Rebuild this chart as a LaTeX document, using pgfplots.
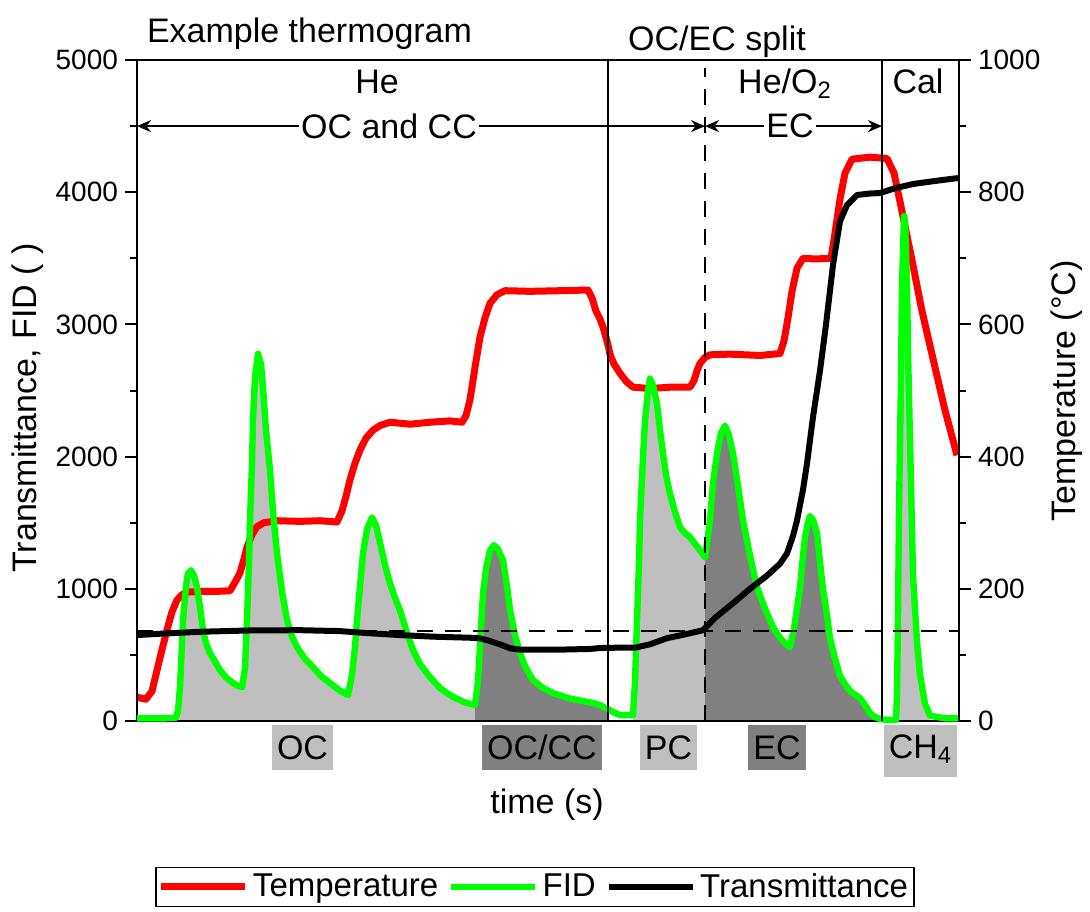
\documentclass[border=0pt]{standalone}
\usepackage{fontspec}
\setmainfont{Liberation Sans}
\usepackage{pgfplots}
\usepackage{pgfplotstable}
\pgfplotsset{compat=1.18}
\usetikzlibrary{arrows.meta}
\definecolor{LGray}{HTML}{BFBFBF}
\definecolor{DGray}{HTML}{808080}
\definecolor{FIDgreen}{HTML}{00FF00}
\definecolor{TempRed}{HTML}{FF0000}

% time in arbitrary units, temperature in degC
\pgfplotstableread{
x T
137 36
146 33
152 45
157 77
162 108
167 138
172 165
177 183
182 191
187 195
200 196
215 196
230 197
235 210
240 224
244 245
247 263
252 282
257 294
264 300
277 303
300 302
320 303
337 301
342 318
346 340
350 365
355 390
360 410
366 428
373 440
380 447
390 452
410 449
430 452
450 454
462 452
466 462
470 486
475 535
480 581
485 610
490 632
497 645
505 651
530 650
560 651
588 652
592 640
596 620
600 608
603 596
607 575
610 555
614 540
620 526
626 514
633 505
650 503
670 505
690 505
694 515
697 530
700 541
705 550
710 554
730 555
760 553
780 556
784 575
788 610
792 650
797 685
803 700
815 699
831 700
835 738
840 790
845 829
852 850
870 853
887 851
894 829
901 778
912 697
922 620
935 535
945 470
957 402
}\temp

% FID signal
\pgfplotstableread{
x v
137 20
150 20
165 20
176 25
178 80
180 257
183 760
186 1020
188 1117
191 1140
194 1100
197 1012
200 860
203 687
206 590
210 513
215 450
220 385
226 330
233 287
238 265
242 257
245 400
247 762
249 1200
250 1517
252 1950
253 2272
255 2600
258 2778
261 2700
263 2522
266 2200
270 1895
273 1580
277 1268
282 980
287 762
292 640
297 559
305 470
313 408
321 340
330 287
340 230
348 196
352 350
355 560
357 762
360 1020
363 1268
367 1450
372 1540
376 1480
380 1350
385 1180
390 1042
395 930
400 838
406 690
413 536
420 430
430 332
440 250
447 211
455 175
465 140
475 121
478 300
481 700
483 966
486 1150
490 1291
494 1330
498 1300
503 1215
507 1020
510 838
515 650
520 513
526 400
533 310
543 250
553 211
570 170
593 136
600 120
608 90
613 68
620 45
633 45
635 300
637 762
639 1200
640 1517
643 2000
645 2272
648 2500
650 2590
653 2540
657 2400
660 2200
663 2023
666 1860
670 1720
675 1580
680 1467
685 1420
690 1392
695 1340
700 1291
705 1238
707 1350
710 1517
713 1800
717 2023
721 2180
725 2234
729 2160
733 2023
738 1780
743 1517
750 1250
757 1012
765 850
773 710
780 630
786 580
790 559
794 700
797 850
800 1012
803 1250
805 1392
808 1500
810 1550
813 1520
817 1420
820 1200
823 997
827 800
830 627
835 470
840 340
845 280
850 227
855 200
860 174
865 120
870 60
875 30
882 12
890 8
896 8
897 200
898 800
899 1600
901 2600
902 3300
904 3820
905 3780
907 3300
908 2800
910 2121
913 1100
917 600
920 350
925 130
930 40
945 20
958 20
}\fid

% transmittance
\pgfplotstableread{
x v
137 650
160 660
200 675
250 685
300 687
340 680
367 665
400 650
433 638
470 630
480 625
490 605
500 580
510 550
520 540
560 540
590 545
600 552
620 555
635 555
650 580
667 627
685 655
703 687
715 780
733 891
750 1000
767 1100
780 1190
787 1268
793 1400
797 1517
803 1750
807 1948
813 2300
820 2650
826 3000
833 3450
840 3780
847 3903
857 3979
870 3990
880 3994
895 4030
913 4062
935 4085
958 4107
}\trans

\begin{document}
\begin{tikzpicture}
\pgfplotsset{
  thermo/.style={
    width=411pt, height=330.5pt, scale only axis,
    xmin=137, xmax=959, clip=false,
    tick label style={font=\fontsize{14}{16}\selectfont},
    /pgf/number format/1000 sep={},
    /pgf/number format/assume math mode=true,
    tick align=outside, major tick length=6pt, minor tick length=3.5pt,
    tick style={black, line width=1pt},
    axis line style={line width=1pt},
  },
}
% grey areas under the FID trace
\begin{axis}[thermo, ymin=0, ymax=5000, hide axis]
\addplot[fill=LGray, draw=none, restrict x to domain=176:475] table[x=x,y=v] {\fid} \closedcycle;
\addplot[fill=DGray, draw=none, restrict x to domain=475:608] table[x=x,y=v] {\fid} \closedcycle;
\addplot[fill=LGray, draw=none, restrict x to domain=633:705] table[x=x,y=v] {\fid} \closedcycle;
\addplot[fill=DGray, draw=none, restrict x to domain=705:882] table[x=x,y=v] {\fid} \closedcycle;
\addplot[fill=LGray, draw=none, restrict x to domain=896:930] table[x=x,y=v] {\fid} \closedcycle;
\end{axis}

% temperature, right axis
\begin{axis}[thermo, ymin=0, ymax=1000,
  axis y line*=right, axis x line=none,
  ytick={0,200,...,1000}, minor ytick={100,300,...,900}]
\addplot[TempRed, line width=3.5pt, line join=round] table[x=x,y=T] {\temp};
\end{axis}

% FID and transmittance, left axis
\begin{axis}[thermo, ymin=0, ymax=5000,
  xtick=\empty, ytick pos=left,
  ytick={0,1000,...,5000}, minor ytick={500,1500,...,4500},
  legend style={at={(rel axis cs:0.4842,-0.2511)}, anchor=center,
    legend columns=3, draw=black, line width=0.8pt,
    font=\fontsize{16.5}{19}\selectfont,
    inner xsep=1pt, inner ysep=1pt,
    /tikz/every even column/.append style={column sep=3pt}},
  legend image code/.code={\draw[#1] (0pt,0pt) -- (42pt,0pt);},
]
\addlegendimage{TempRed, line width=3.5pt}
\addlegendentry{Temperature}
\addlegendimage{FIDgreen, line width=3.2pt}
\addlegendentry{FID}
\addlegendimage{black, line width=3.2pt}
\addlegendentry{Transmittance}

\addplot[FIDgreen, line width=3.2pt, line join=round, forget plot] table[x=x,y=v] {\fid};
\addplot[black, line width=3pt, line join=round, forget plot] table[x=x,y=v] {\trans};

% split lines and reference level
\draw[line width=0.8pt] (axis cs:608,0) -- (axis cs:608,5000);
\draw[line width=0.8pt] (axis cs:882,0) -- (axis cs:882,5000);
\draw[line width=1pt, dash pattern=on 8pt off 6pt] (axis cs:705,0) -- (axis cs:705,4940);
\draw[line width=1pt, dash pattern=on 8pt off 6pt] (axis cs:137,680) -- (axis cs:959,680);

% phase arrows
\draw[line width=0.8pt, {Stealth[length=7pt,width=6pt]}-{Stealth[length=7pt,width=6pt]}]
  (axis cs:137,4500) -- (axis cs:705,4500);
\draw[line width=0.8pt, {Stealth[length=7pt,width=6pt]}-{Stealth[length=7pt,width=6pt]}]
  (axis cs:705,4500) -- (axis cs:882,4500);
\node[fill=white, inner sep=1pt, font=\fontsize{17}{20}\selectfont] at (axis cs:389,4500) {OC and CC};
\node[fill=white, inner sep=1pt, font=\fontsize{17}{20}\selectfont] at (axis cs:790,4500) {EC};

\node[anchor=base, font=\fontsize{17}{20}\selectfont] at (axis cs:377,4749) {He};
\node[anchor=base, font=\fontsize{17}{20}\selectfont] at (axis cs:785,4749) {He/O\textsubscript{2}};
\node[anchor=base, font=\fontsize{17}{20}\selectfont] at (axis cs:918,4749) {Cal};

% titles above the frame
\node[anchor=base west, font=\fontsize{17}{20}\selectfont] at (rel axis cs:0.0036,1.0272) {Example thermogram};
\node[anchor=base, font=\fontsize{17}{20}\selectfont] at (rel axis cs:0.7056,1.0151) {OC/EC split};

% fraction boxes below the frame
\fill[LGray] (axis cs:272,-30) rectangle (axis cs:333,-370);
\fill[DGray] (axis cs:482,-30) rectangle (axis cs:602,-370);
\fill[LGray] (axis cs:640,-30) rectangle (axis cs:697,-370);
\fill[DGray] (axis cs:748,-30) rectangle (axis cs:806,-370);
\fill[LGray] (axis cs:884,-30) rectangle (axis cs:957,-423);
\node[font=\fontsize{17}{20}\selectfont] at (axis cs:302.5,-200) {OC};
\node[font=\fontsize{17}{20}\selectfont] at (axis cs:542,-200) {OC/CC};
\node[font=\fontsize{17}{20}\selectfont] at (axis cs:668.5,-200) {PC};
\node[font=\fontsize{17}{20}\selectfont] at (axis cs:777,-200) {EC};
\node[font=\fontsize{17}{20}\selectfont] at (axis cs:920.5,-215) {CH\textsubscript{4}};

% axis titles
\node[font=\fontsize{17}{20}\selectfont] at (rel axis cs:0.4988,-0.127) {time (s)};
\node[rotate=90, font=\fontsize{17}{20}\selectfont] at (rel axis cs:-0.1326,0.4735) {Transmittance, FID ( )};
\node[rotate=90, font=\fontsize{17}{20}\selectfont] at (rel axis cs:1.1314,0.4992) {Temperature (°C)};

% page size
\path (rel axis cs:-0.16667,1.09077) rectangle (rel axis cs:1.15937,-0.28744);
\end{axis}
\end{tikzpicture}
\end{document}
